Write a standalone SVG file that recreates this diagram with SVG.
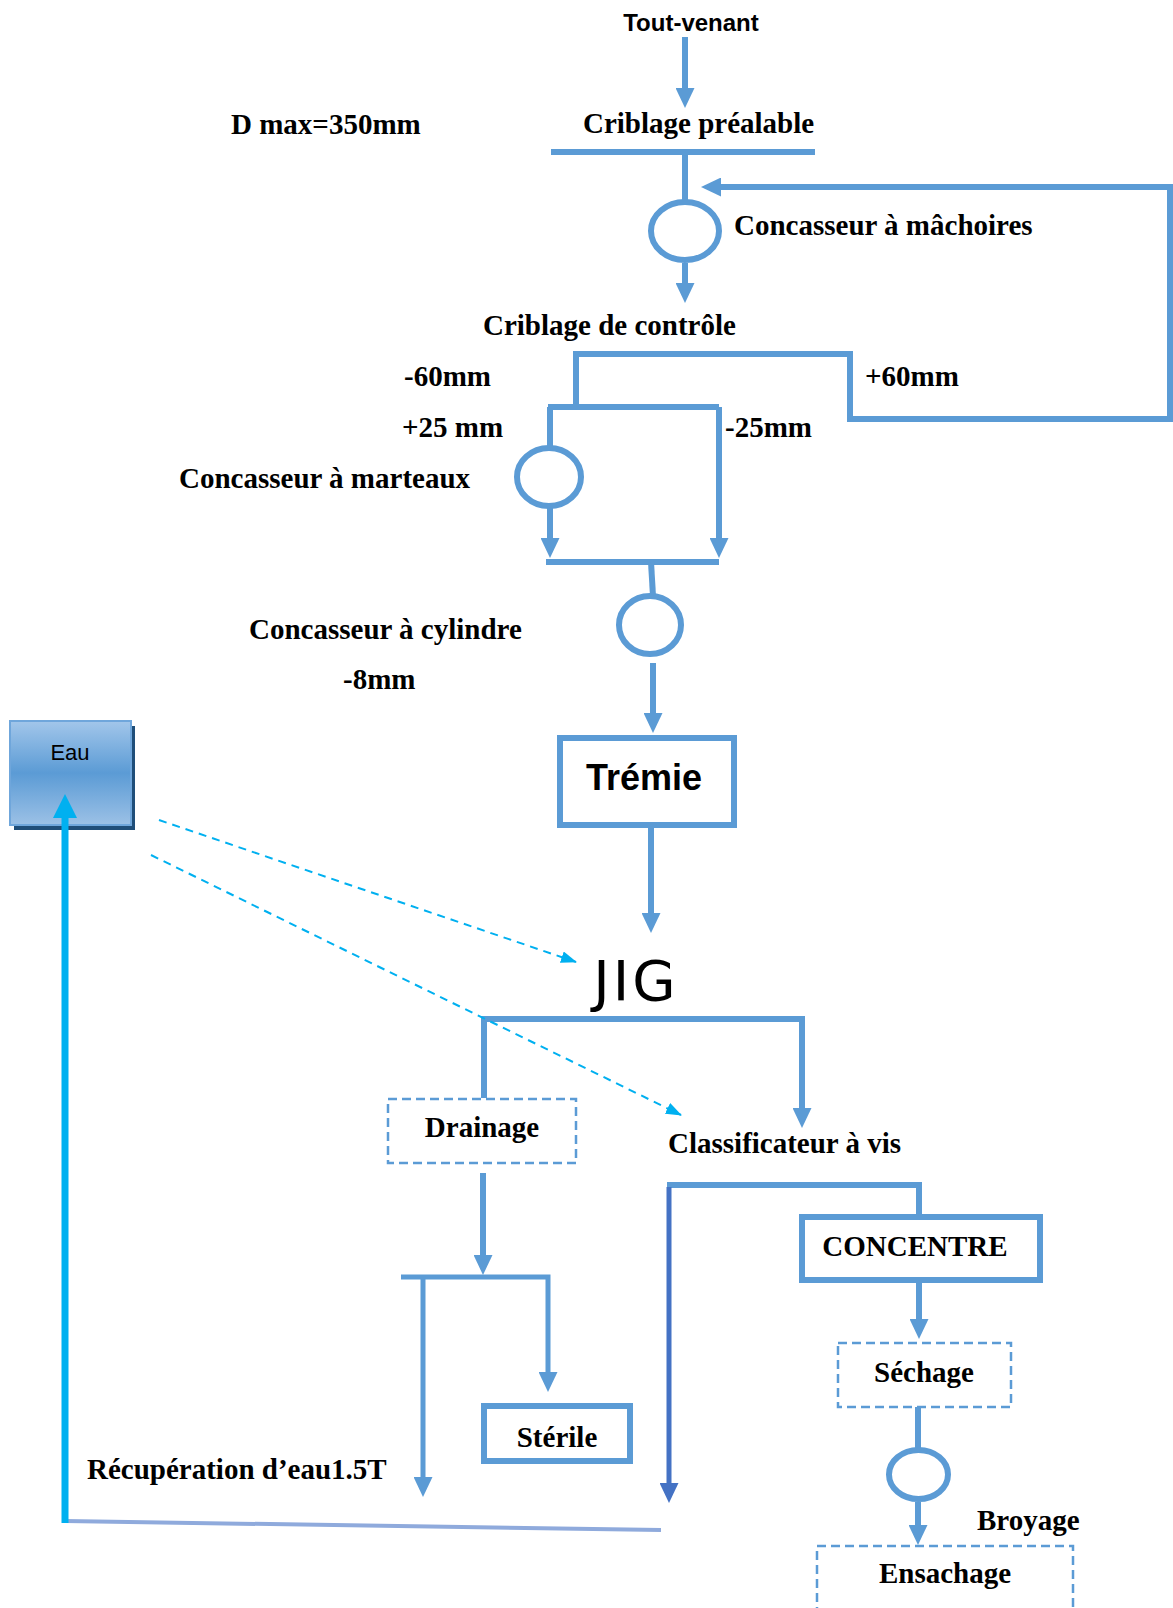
<svg xmlns="http://www.w3.org/2000/svg" width="1173" height="1608" viewBox="0 0 1173 1608">
  <style>
    .lbl { font-family: "Liberation Serif", "Times New Roman", serif; font-weight: bold; font-size: 29px; fill: #000; }
    .flow { fill: none; stroke: #5b9bd5; stroke-width: 6; }
    .flow5 { fill: none; stroke: #5b9bd5; stroke-width: 5; }
    .dash-box { fill: #fff; stroke: #5b9bd5; stroke-width: 2.5; stroke-dasharray: 9 5; }
    .solid-box { fill: #fff; stroke: #5b9bd5; stroke-width: 6; }
    .crusher { fill: #fff; stroke: #5b9bd5; stroke-width: 6; }
    .water { fill: none; stroke: #00b0f0; stroke-width: 2; stroke-dasharray: 8 6; }
  </style>
  <defs>
    <marker id="head" viewBox="0 0 20 19" refX="1" refY="9.5" markerWidth="20" markerHeight="19" markerUnits="userSpaceOnUse" orient="auto">
      <path d="M0,0 L20,9.5 L0,19 z" fill="#5b9bd5"/>
    </marker>
    <marker id="head-dark" viewBox="0 0 20 19" refX="1" refY="9.5" markerWidth="20" markerHeight="19" markerUnits="userSpaceOnUse" orient="auto">
      <path d="M0,0 L20,9.5 L0,19 z" fill="#4472c4"/>
    </marker>
    <marker id="head-cyan" viewBox="0 0 24 24" refX="1" refY="12" markerWidth="24" markerHeight="24" markerUnits="userSpaceOnUse" orient="auto">
      <path d="M0,0 L24,12 L0,24 z" fill="#00b0f0"/>
    </marker>
    <marker id="head-water" viewBox="0 0 16 12" refX="15" refY="6" markerWidth="16" markerHeight="12" markerUnits="userSpaceOnUse" orient="auto">
      <path d="M0,0 L16,6 L0,12 z" fill="#00b0f0"/>
    </marker>
    <linearGradient id="eau-fill" x1="0" y1="0" x2="0" y2="1">
      <stop offset="0" stop-color="#a2c6ea"/>
      <stop offset="0.5" stop-color="#5b9bd5"/>
      <stop offset="1" stop-color="#9cc1e6"/>
    </linearGradient>
  </defs>

  <!-- free labels -->
  <g id="labels">
    <text x="691" y="31" text-anchor="middle" style="font-family:'Liberation Sans',Arial,sans-serif;font-weight:bold;font-size:24px">Tout-venant</text>
    <text class="lbl" x="231" y="134">D max=350mm</text>
    <text class="lbl" x="583" y="133">Criblage préalable</text>
    <text class="lbl" x="734" y="235">Concasseur à mâchoires</text>
    <text class="lbl" x="483" y="335">Criblage de contrôle</text>
    <text class="lbl" x="404" y="386">-60mm</text>
    <text class="lbl" x="865" y="386">+60mm</text>
    <text class="lbl" x="402" y="437">+25 mm</text>
    <text class="lbl" x="725" y="437">-25mm</text>
    <text class="lbl" x="179" y="488">Concasseur à marteaux</text>
    <text class="lbl" x="249" y="639">Concasseur à cylindre</text>
    <text class="lbl" x="343" y="689">-8mm</text>
    <text x="636" y="1000" text-anchor="middle" style="font-family:'DejaVu Sans',sans-serif;font-size:56px;letter-spacing:3px">JIG</text>
    <text class="lbl" x="668" y="1153">Classificateur à vis</text>
    <text class="lbl" x="87" y="1479">Récupération d’eau1.5T</text>
    <text class="lbl" x="977" y="1530">Broyage</text>
  </g>

  <!-- nodes -->
  <g id="eau">
    <rect x="14" y="726" width="121" height="104" fill="#1f4e79"/>
    <rect x="10" y="721" width="121" height="104" fill="url(#eau-fill)" stroke="#6fa6db" stroke-width="2"/>
    <text x="70" y="760" text-anchor="middle" style="font-family:'Liberation Sans',Arial,sans-serif;font-size:22px">Eau</text>
  </g>
  <g id="concasseur-machoires"><ellipse class="crusher" cx="685" cy="231" rx="34" ry="29"/></g>
  <g id="concasseur-marteaux"><ellipse class="crusher" cx="549" cy="477" rx="32" ry="29"/></g>
  <g id="concasseur-cylindre"><ellipse class="crusher" cx="650" cy="625" rx="31" ry="29"/></g>
  <g id="tremie">
    <rect class="solid-box" x="560" y="738" width="174" height="87"/>
    <text x="644" y="790" text-anchor="middle" style="font-family:'Liberation Sans',Arial,sans-serif;font-weight:bold;font-size:36px">Trémie</text>
  </g>
  <g id="drainage">
    <rect class="dash-box" x="388" y="1099" width="188" height="64"/>
    <text class="lbl" x="482" y="1137" text-anchor="middle">Drainage</text>
  </g>
  <g id="sterile">
    <rect class="solid-box" x="484" y="1406" width="146" height="55"/>
    <text class="lbl" x="557" y="1447" text-anchor="middle">Stérile</text>
  </g>
  <g id="concentre">
    <rect class="solid-box" x="802" y="1217" width="238" height="63"/>
    <text class="lbl" x="915" y="1256" text-anchor="middle">CONCENTRE</text>
  </g>
  <g id="sechage">
    <rect class="dash-box" x="838" y="1343" width="173" height="64"/>
    <text class="lbl" x="924" y="1382" text-anchor="middle">Séchage</text>
  </g>
  <g id="broyeur"><ellipse class="crusher" cx="918.5" cy="1474.5" rx="29.5" ry="24.5"/></g>
  <g id="ensachage">
    <rect class="dash-box" x="817" y="1546" width="256" height="80"/>
    <text class="lbl" x="945" y="1583" text-anchor="middle">Ensachage</text>
  </g>

  <!-- connectors -->
  <g id="connectors">
    <line class="flow" x1="685" y1="37" x2="685" y2="89" marker-end="url(#head)"/>
    <line class="flow" x1="551" y1="152" x2="815" y2="152"/>
    <line class="flow" x1="685" y1="152" x2="685" y2="200"/>
    <line class="flow" x1="685" y1="263" x2="685" y2="284" marker-end="url(#head)"/>
    <!-- control screen with +60mm return loop -->
    <path class="flow" d="M576,407 V354 H850 V419 H1170 V187 H720" marker-end="url(#head)"/>
    <!-- +25 / -25 split -->
    <line class="flow" x1="548" y1="407" x2="719" y2="407"/>
    <line class="flow" x1="550" y1="407" x2="550" y2="448"/>
    <line class="flow" x1="550" y1="506" x2="550" y2="539" marker-end="url(#head)"/>
    <line class="flow" x1="719" y1="407" x2="719" y2="539" marker-end="url(#head)"/>
    <line class="flow" x1="546" y1="562" x2="719" y2="562"/>
    <line class="flow" x1="651" y1="562" x2="653" y2="596"/>
    <line class="flow" x1="653" y1="663" x2="653" y2="714" marker-end="url(#head)"/>
    <line class="flow" x1="651" y1="828" x2="651" y2="914" marker-end="url(#head)"/>
    <!-- JIG outputs -->
    <path class="flow" d="M484,1098 V1019 H802 V1109" marker-end="url(#head)"/>
    <line class="flow" x1="483" y1="1173" x2="483" y2="1256" marker-end="url(#head)"/>
    <path class="flow5" d="M401,1277 H548 V1373" marker-end="url(#head)"/>
    <line class="flow5" x1="423" y1="1277" x2="423" y2="1478" marker-end="url(#head)"/>
    <!-- screw classifier -->
    <path class="flow" d="M919,1214 V1185 H667"/>
    <line x1="669" y1="1187" x2="669" y2="1484" stroke="#4472c4" stroke-width="5" marker-end="url(#head-dark)"/>
    <line class="flow" x1="919" y1="1283" x2="919" y2="1320" marker-end="url(#head)"/>
    <line class="flow" x1="918" y1="1407" x2="918" y2="1450"/>
    <line class="flow" x1="918" y1="1502" x2="918" y2="1526" marker-end="url(#head)"/>
    <!-- water recovery loop -->
    <line x1="65" y1="1521" x2="661" y2="1530" stroke="#8faadc" stroke-width="4"/>
    <line x1="65" y1="1523" x2="65" y2="817" stroke="#00b0f0" stroke-width="7" marker-end="url(#head-cyan)"/>
    <line class="water" x1="159" y1="820" x2="576" y2="962" marker-end="url(#head-water)"/>
    <line class="water" x1="151" y1="855" x2="681" y2="1115" marker-end="url(#head-water)"/>
  </g>
</svg>
